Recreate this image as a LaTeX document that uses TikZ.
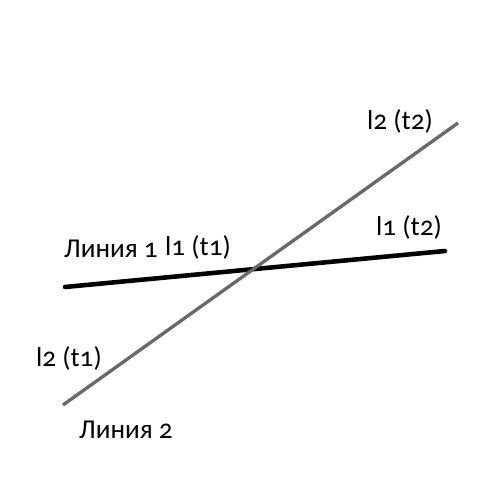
\documentclass[tikz,border=0pt]{standalone}
\usepackage{fontspec}
\setmainfont{Carlito}[Numbers=OldStyle]
\usepackage{tikz}
\usetikzlibrary{positioning}

\begin{document}
\begin{tikzpicture}[x=0.02cm, y=-0.02cm, lbl/.style={font=\fontsize{15.5}{18}\selectfont, inner sep=0pt}]
    \useasboundingbox (0,0) rectangle (500,500);
    \coordinate (a1) at (65,287);
    \coordinate (b1) at (445,251);
    \coordinate (a2) at (63,405);
    \coordinate (b2) at (458,123);
    \draw[line width=2.6pt, line cap=round] (a1) -- (b1);
    \draw[line width=1.9pt, color={rgb,255:red,105;green,105;blue,105}] (a2) -- (b2);
    \node[lbl] (name1) at (111,249) {Линия 1};
    \node[lbl] (l1t1) at (198,247) {l1 (t1)};
    \node[lbl] (l1t2) at (409,227) {l1 (t2)};
    \node[lbl] (l2t2) at (400,121) {l2 (t2)};
    \node[lbl] (l2t1) at (69,358) {l2 (t1)};
    \node[lbl] (name2) at (126,430) {Линия 2};
\end{tikzpicture}
\end{document}
